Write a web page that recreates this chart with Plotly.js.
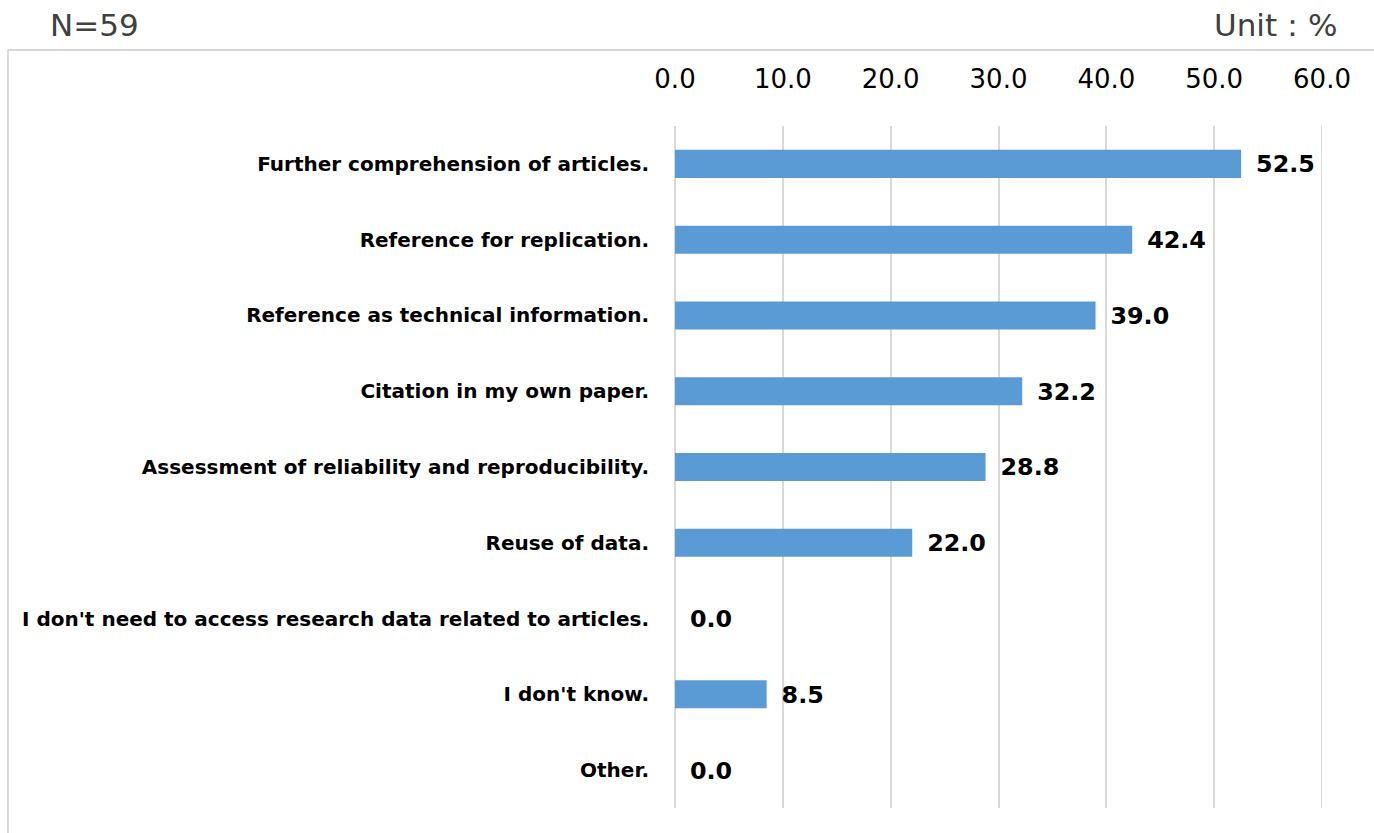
<!DOCTYPE html>
<html>
<head>
<meta charset="utf-8">
<script src="https://cdn.plot.ly/plotly-3.0.1.min.js"></script>
<style>
html,body{margin:0;padding:0;background:#fff;}
#chart{width:1374px;height:833px;}
</style>
</head>
<body>
<div id="chart"></div>
<script>
const categories = [
  "Further comprehension of articles.",
  "Reference for replication.",
  "Reference as technical information.",
  "Citation in my own paper.",
  "Assessment of reliability and reproducibility.",
  "Reuse of data.",
  "I don't need to access research data related to articles.",
  "I don't know.",
  "Other."
];
const values = [52.5, 42.4, 39.0, 32.2, 28.8, 22.0, 0.0, 8.5, 0.0];
const tickVals = [0, 10, 20, 30, 40, 50, 60];
const tickText = ["0.0", "10.0", "20.0", "30.0", "40.0", "50.0", "60.0"];
const sampleNote = "N=59";
const unitNote = "Unit：%";

const xMin = tickVals[0];
const xMax = tickVals[tickVals.length - 1];

const trace = {
  type: "bar",
  orientation: "h",
  y: categories,
  x: values,
  width: 0.37,
  marker: {color: "#5B9BD5"},
  text: values.map(v => v.toFixed(1)),
  texttemplate: "\u2002%{text}",
  textposition: "outside",
  textfont: {family: "DejaVu Sans, Verdana, sans-serif", size: 25.5, color: "#000", weight: "bold"},
  cliponaxis: false,
  hoverinfo: "skip"
};

const layout = {
  width: 1374, height: 833,
  margin: {l: 675, r: 52, t: 126, b: 25},
  paper_bgcolor: "#fff", plot_bgcolor: "#fff",
  showlegend: false,
  font: {family: "DejaVu Sans, Verdana, sans-serif", color: "#000"},
  xaxis: {
    side: "top",
    range: [xMin, xMax],
    tickvals: tickVals,
    ticktext: tickText,
    showgrid: true,
    gridcolor: "#D9D9D9",
    gridwidth: 2,
    zeroline: true,
    zerolinecolor: "#D9D9D9",
    zerolinewidth: 2,
    showline: false,
    ticks: "",
    ticklabelstandoff: 32,
    tickfont: {size: 26, color: "#000"},
    fixedrange: true
  },
  yaxis: {
    type: "category",
    autorange: "reversed",
    showgrid: false,
    zeroline: false,
    showline: false,
    ticks: "",
    ticklabelstandoff: 25,
    tickfont: {size: 20, color: "#000", weight: "bold"},
    fixedrange: true
  },
  shapes: [
    {type: "line", xref: "x", yref: "paper", x0: xMax, x1: xMax, y0: 0, y1: 1,
     line: {color: "#D9D9D9", width: 2}, layer: "below"},
    {type: "line", xref: "paper", yref: "paper", x0: -1.031, x1: 1.1, y0: 1.1114, y1: 1.1114,
     line: {color: "#D9D9D9", width: 2}},
    {type: "line", xref: "paper", yref: "paper", x0: -1.031, x1: -1.031, y0: 1.1114, y1: -0.05,
     line: {color: "#D9D9D9", width: 2}}
  ],
  annotations: [
    {xref: "paper", yref: "paper", x: -0.969, y: 1.148, xanchor: "left", yanchor: "middle",
     text: sampleNote, showarrow: false, font: {size: 31, color: "#404040"}},
    {xref: "paper", yref: "paper", x: 1.0278, y: 1.148, xanchor: "right", yanchor: "middle",
     text: unitNote, showarrow: false, font: {size: 31, color: "#404040"}}
  ]
};

Plotly.newPlot("chart", [trace], layout, {displayModeBar: false, staticPlot: true});
</script>
</body>
</html>
